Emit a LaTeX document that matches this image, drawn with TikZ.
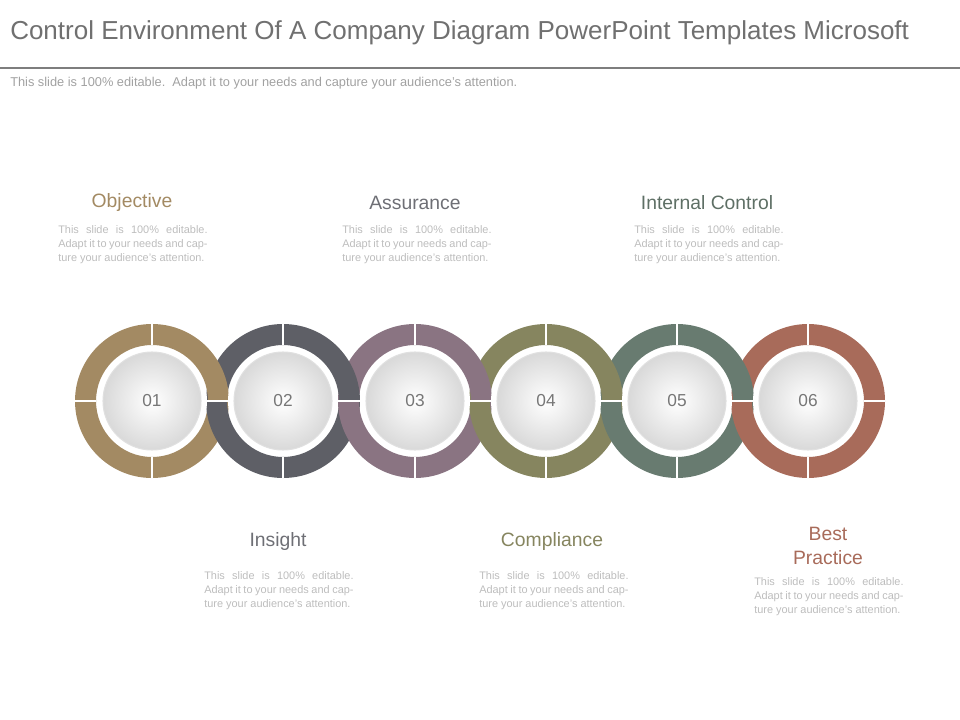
\documentclass[tikz,border=0pt]{standalone}
\usepackage{fontspec}
\setmainfont{Liberation Sans}
\usetikzlibrary{calc}
\begin{document}
\begin{tikzpicture}[x=0.75pt,y=-0.75pt,
  head/.style={font=\fontsize{14.5}{17}\selectfont,align=center},
  body/.style={font=\fontsize{8.2}{10.6}\selectfont,text=txtgray,text width=112pt,align=justify,anchor=north west,inner sep=0pt},
  num/.style={font=\fontsize{13}{15}\selectfont,text=numgray},
  sep/.style={draw=white,line width=2.2pt}]
\definecolor{c1}{HTML}{A38A63}\definecolor{c2}{HTML}{5E5F66}
\definecolor{c3}{HTML}{8A7482}\definecolor{c4}{HTML}{86855F}
\definecolor{c5}{HTML}{687B70}\definecolor{c6}{HTML}{A86B5A}
\definecolor{txtgray}{HTML}{BDBDBD}\definecolor{numgray}{HTML}{777777}
\definecolor{titlegray}{HTML}{707070}
\useasboundingbox (0,0) rectangle (960,720);
\node[anchor=west,inner sep=0pt,text=titlegray,font=\fontsize{19.5}{22}\selectfont] (title) at (10,33) {Control Environment Of A Company Diagram PowerPoint Templates Microsoft};
\draw[draw=titlegray!90,line width=2.2pt] (0,68) -- (960,68);
\node[anchor=west,inner sep=0pt,text=txtgray!85!black,font=\fontsize{9.6}{11}\selectfont] (sub) at (10,83) {This slide is 100\% editable.\ \ Adapt it to your needs and capture your audience's attention.};
% rings
\def\ro{77}\def\ri{56}
\foreach \lay in {{90,270},{0,180}}{
\foreach \x/\c in {152/c1,283/c2,415/c3,546/c4,677/c5,808/c6}{
  \foreach \a in \lay{
    \fill[\c] (\x,401) ++(\a:\ro) arc[start angle=\a,end angle=\a-90,radius=\ro] -- ($(\x,401)+(\a-90:\ri)$) arc[start angle=\a-90,end angle=\a,radius=\ri] -- cycle;
  }
}}
\foreach \x in {152,283,415,546,677,808}{
  \draw[sep] (\x-\ro,401) -- (\x-\ri,401) (\x+\ri,401) -- (\x+\ro,401)
             (\x,401-\ro) -- (\x,401-\ri) (\x,401+\ri) -- (\x,401+\ro);
  \fill[white] (\x,401) circle (55);
  \shade[inner color=white,outer color=black!15,draw=black!12,line width=0.8pt] (\x,401) circle (49);
}
\node[num] (n1) at (152,401) {01};\node[num] (n2) at (283,401) {02};
\node[num] (n3) at (415,401) {03};\node[num] (n4) at (546,401) {04};
\node[num] (n5) at (677,401) {05};\node[num] (n6) at (808,401) {06};
\newcommand{\bt}{This slide is 100\% editable. Adapt it to your needs and capture your audience's attention.}
\node[head,text=c1] (h1) at (132,203) {Objective};
\node[head,text=c2!90] (h2) at (415,203) {Assurance};
\node[head,text=c5!90!black] (h3) at (707,203) {Internal Control};
\node[head,text=c2!90] (h4) at (278,541) {Insight};
\node[head,text=c4] (h5) at (552,541) {Compliance};
\node[head,text=c6,font=\fontsize{14.5}{18.5}\selectfont] (h6) at (828,546) {Best\\Practice};
\node[body] (b1) at (58,225) {\bt};
\node[body] (b2) at (342,225) {\bt};
\node[body] (b3) at (634,225) {\bt};
\node[body] (b4) at (204,571) {\bt};
\node[body] (b5) at (479,571) {\bt};
\node[body] (b6) at (754,577) {\bt};
\end{tikzpicture}
\end{document}
